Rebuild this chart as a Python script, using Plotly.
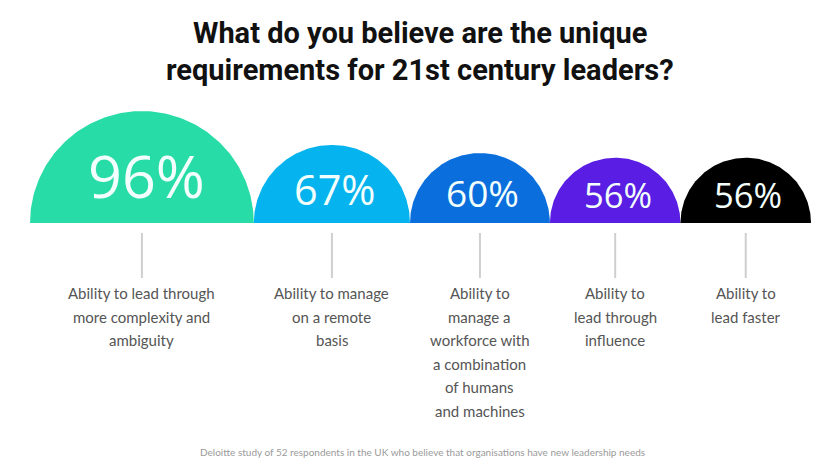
import numpy as np
import plotly.graph_objects as go

# ---- data ----
values = [96, 67, 60, 56, 56]
value_labels = ["96%", "67%", "60%", "56%", "56%"]
categories = [
    ["Ability to lead through", "more complexity and", "ambiguity"],
    ["Ability to manage", "on a remote", "basis"],
    ["Ability to", "manage a", "workforce with", "a combination", "of humans", "and machines"],
    ["Ability to", "lead through", "influence"],
    ["Ability to", "lead faster"],
]
colors = ["#27DCA6", "#05B3EE", "#0B6EDD", "#5A1DE3", "#000000"]
title_lines = ["What do you believe are the unique", "requirements for 21st century leaders?"]
source = "Deloitte study of 52 respondents in the UK who believe that organisations have new leadership needs"

OFF = 8  # page body margin in the browser
W, H = 840 - OFF, 472 - OFF
left_px, right_px, base_px = 30 - OFF, 811 - OFF, 223 - OFF
k = (right_px - left_px) / sum(values)  # px per unit

fig = go.Figure()

# semicircles: diameter proportional to value
x0 = 0.0
centers = []
for v, c in zip(values, colors):
    r = v / 2
    cx = x0 + r
    centers.append((cx, r))
    t = np.linspace(0, np.pi, 160)
    xs = np.concatenate([[cx - r], cx + r * np.cos(t[::-1]), [cx + r]])
    ys = np.concatenate([[0], r * np.sin(t[::-1]), [0]])
    fig.add_trace(go.Scatter(x=xs, y=ys, mode="lines", fill="toself", fillcolor=c,
                             line=dict(width=0, color=c), hoverinfo="skip", showlegend=False))
    x0 += v

# percentage labels
for (cx, r), lab in zip(centers, value_labels):
    fig.add_annotation(x=cx + 0.04 * r, y=0.43 * r, xref="x", yref="y", text=lab, showarrow=False,
                       font=dict(family="Open Sans", size=0.53 * r * k, color="#F2FFFC", weight=500),
                       xanchor="center", yanchor="middle")

# connector lines and category labels
top_tick = (base_px - (233 - OFF)) / k
bot_tick = (base_px - (278 - OFF)) / k
for (cx, r), lines in zip(centers, categories):
    fig.add_trace(go.Scatter(x=[cx, cx], y=[top_tick, bot_tick], mode="lines",
                             line=dict(color="#CFCFCF", width=2), hoverinfo="skip", showlegend=False))
    for i, ln in enumerate(lines):
        py = 293 - OFF + i * 23.6
        fig.add_annotation(x=cx, y=(base_px - py) / k, xref="x", yref="y", text=ln, showarrow=False,
                           font=dict(family="Lato", size=15, color="#555555"),
                           xanchor="center", yanchor="middle")

# title
for i, ln in enumerate(title_lines):
    py = 33 - OFF + i * 37
    fig.add_annotation(x=(420 - OFF) / W, xref="paper", y=1 - py / H, yref="paper", text="<b>" + ln + "</b>",
                       showarrow=False, font=dict(family="Roboto", size=29, color="#111111"),
                       xanchor="center", yanchor="middle")

# source
fig.add_annotation(x=(422 - OFF) / W, xref="paper", y=1 - (452 - OFF) / H, yref="paper", text=source,
                   showarrow=False, font=dict(family="Lato", size=10, color="#9A9A9A"),
                   xanchor="center", yanchor="middle")

fig.update_layout(
    width=W, height=H, margin=dict(l=0, r=0, t=0, b=0),
    paper_bgcolor="white", plot_bgcolor="white",
    xaxis=dict(range=[-left_px / k, (W - left_px) / k], visible=False, fixedrange=True),
    yaxis=dict(range=[-(H - base_px) / k, base_px / k], visible=False, fixedrange=True),
)

fig.write_html("out.html")
